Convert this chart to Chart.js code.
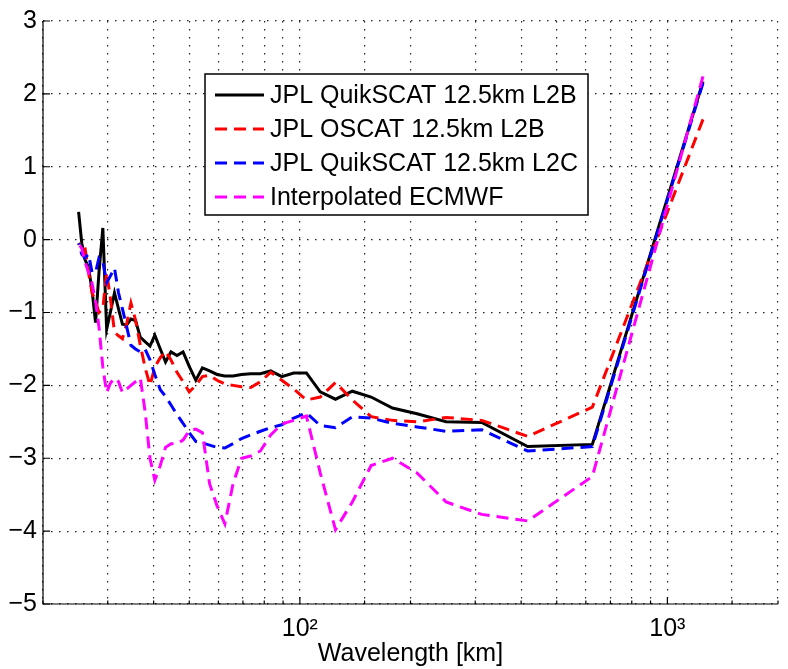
<!DOCTYPE html>
<html>
<head>
<meta charset="utf-8">
<script src="https://cdn.jsdelivr.net/npm/chart.js@4.4.1/dist/chart.umd.min.js"></script>
<style>
  html, body { margin: 0; padding: 0; background: #fff; }
  #slopeChart { display: block; }
</style>
</head>
<body>
<canvas id="slopeChart" width="788" height="669"></canvas>
<script>
// wavelengths [km], 1250/k for k = 1..50
var wavelengths = [1250, 625, 416.7, 312.5, 250, 208.3, 178.6, 156.3, 138.9, 125,
    113.6, 104.2, 96.2, 89.3, 83.3, 78.1, 73.5, 69.4, 65.8, 62.5,
    59.5, 56.8, 54.3, 52.1, 50, 48.1, 46.3, 44.6, 43.1, 41.7,
    40.3, 39.1, 37.9, 36.8, 35.7, 34.7, 33.8, 32.9, 32.1, 31.3,
    30.5, 29.8, 29.1, 28.4, 27.8, 27.2, 26.6, 26.0, 25.5, 25.0];

var quikscatL2B = [2.17, -2.81, -2.84, -2.51, -2.50, -2.39, -2.31, -2.16, -2.08, -2.19,
    -2.09, -1.83, -1.83, -1.88, -1.80, -1.84, -1.84, -1.85, -1.87, -1.87,
    -1.85, -1.80, -1.76, -1.93, -1.74, -1.54, -1.59, -1.54, -1.68, -1.50,
    -1.31, -1.46, -1.40, -1.34, -1.11, -1.09, -1.17, -1.16, -0.95, -0.73,
    -1.00, -1.23, 0.16, -0.45, -1.14, -0.70, -0.38, -0.27, -0.05, 0.38];

var oscatL2B = [1.65, -2.30, -2.70, -2.48, -2.44, -2.50, -2.48, -2.43, -2.20, -1.96,
    -2.16, -2.20, -2.05, -1.93, -1.82, -1.95, -2.03, -2.02, -2.00, -1.98,
    -1.93, -1.86, -1.88, -2.00, -2.09, -1.95, -1.82, -1.65, -1.53, -1.62,
    -1.75, -2.00, -1.75, -1.45, -1.10, -0.87, -1.15, -1.36, -1.32, -1.27,
    -0.80, -0.45, -0.95, -1.00, -0.85, -0.73, -0.45, -0.10, -0.10, -0.05];

var quikscatL2C = [2.15, -2.84, -2.90, -2.61, -2.63, -2.57, -2.52, -2.45, -2.43, -2.58,
    -2.55, -2.38, -2.45, -2.54, -2.58, -2.63, -2.68, -2.73, -2.80, -2.86,
    -2.85, -2.82, -2.79, -2.77, -2.65, -2.52, -2.40, -2.27, -2.15, -2.06,
    -1.85, -1.65, -1.50, -1.54, -1.50, -1.45, -1.20, -0.95, -0.73, -0.39,
    -0.50, -0.59, -0.30, -0.25, -0.45, -0.45, -0.20, -0.25, -0.20, -0.05];

var ecmwf = [2.24, -3.25, -3.86, -3.77, -3.60, -3.20, -3.00, -3.10, -3.60, -3.98,
    -3.20, -2.42, -2.48, -2.53, -2.68, -2.90, -2.97, -3.00, -3.35, -3.90,
    -3.65, -3.35, -2.65, -2.60, -2.62, -2.75, -2.80, -2.80, -2.85, -3.10,
    -3.30, -3.00, -2.35, -1.90, -1.95, -2.00, -2.05, -2.10, -1.95, -1.90,
    -1.97, -2.10, -1.75, -1.20, -0.85, -0.60, -0.45, -0.30, -0.12, -0.05];

var seriesNames = ['JPL QuikSCAT 12.5km L2B', 'JPL OSCAT 12.5km L2B',
    'JPL QuikSCAT 12.5km L2C', 'Interpolated ECMWF'];
var xTickLabels = { 100: '10\u00b2', 1000: '10\u00b3' };
var xTitle = 'Wavelength [km]';

var FONT = 'Liberation Sans, Arial, Helvetica, sans-serif';

function toPoints(values) {
    return values.map(function(v, i) { return { x: wavelengths[i], y: v }; });
}

// legend box drawn inside the plot, like the matlab one
var boxLegend = {
    id: 'boxLegend',
    afterDatasetsDraw: function(chart) {
        var ctx = chart.ctx;
        ctx.save();
        ctx.fillStyle = '#fff';
        ctx.fillRect(205, 74, 383, 141);
        ctx.strokeStyle = '#000';
        ctx.lineWidth = 1.5;
        ctx.strokeRect(205, 74, 383, 141);
        ctx.font = '25px ' + FONT;
        ctx.textBaseline = 'middle';
        ctx.fillStyle = '#000';
        chart.data.datasets.forEach(function(ds, i) {
            var y = 95 + i * 34;
            ctx.strokeStyle = ds.borderColor;
            ctx.lineWidth = ds.borderWidth;
            ctx.setLineDash(ds.borderDash || []);
            ctx.beginPath();
            ctx.moveTo(215, y);
            ctx.lineTo(264, y);
            ctx.stroke();
            ctx.setLineDash([]);
            ctx.fillText(ds.label, 270, y + 1);
        });
        ctx.restore();
    }
};

// left/bottom axis lines with inward ticks
var axisLines = {
    id: 'axisLines',
    afterDraw: function(chart) {
        var ctx = chart.ctx;
        var a = chart.chartArea;
        var xs = chart.scales.x, ys = chart.scales.y;
        ctx.save();
        ctx.strokeStyle = '#000';
        ctx.lineWidth = 1.2;
        ctx.beginPath();
        ctx.moveTo(a.left, a.top);
        ctx.lineTo(a.left, a.bottom);
        ctx.lineTo(a.right, a.bottom);
        ctx.stroke();
        ctx.beginPath();
        ys.ticks.forEach(function(t) {
            var y = ys.getPixelForValue(t.value);
            ctx.moveTo(a.left, y);
            ctx.lineTo(a.left + 7, y);
        });
        xs.ticks.forEach(function(t) {
            var x = xs.getPixelForValue(t.value);
            var len = xTickLabels[t.value] ? 7 : 3.5;
            ctx.moveTo(x, a.bottom);
            ctx.lineTo(x, a.bottom - len);
        });
        ctx.stroke();
        ctx.restore();
    }
};

var ctx = document.getElementById('slopeChart');
var chart = new Chart(ctx, {
    type: 'line',
    data: {
        datasets: [{
            label: seriesNames[0],
            data: toPoints(quikscatL2B),
            borderColor: '#000000',
            borderWidth: 3,
            order: 4
        }, {
            label: seriesNames[1],
            data: toPoints(oscatL2B),
            borderColor: '#ff0000',
            borderWidth: 3,
            borderDash: [12, 7],
            order: 3
        }, {
            label: seriesNames[2],
            data: toPoints(quikscatL2C),
            borderColor: '#0000ff',
            borderWidth: 3,
            borderDash: [12, 7],
            order: 2
        }, {
            label: seriesNames[3],
            data: toPoints(ecmwf),
            borderColor: '#ff00ff',
            borderWidth: 3,
            borderDash: [12, 7],
            order: 1
        }]
    },
    options: {
        responsive: false,
        animation: false,
        devicePixelRatio: 1,
        elements: {
            point: { radius: 0, hoverRadius: 0 },
            line: { tension: 0, fill: false }
        },
        layout: { padding: { top: 16, right: 1, left: 0, bottom: 0 } },
        plugins: {
            legend: { display: false },
            tooltip: { enabled: false }
        },
        scales: {
            x: {
                type: 'logarithmic',
                min: 20,
                max: 2000,
                border: { display: false, dash: [1.5, 6.5] },
                grid: { color: '#222', lineWidth: 1.2, drawTicks: false },
                ticks: {
                    autoSkip: false,
                    maxRotation: 0,
                    padding: 10,
                    color: '#000',
                    font: { family: FONT, size: 25 },
                    callback: function(value) { return xTickLabels[value] || ''; }
                },
                title: {
                    display: true,
                    text: xTitle,
                    color: '#000',
                    font: { family: FONT, size: 25 },
                    padding: { top: 0, bottom: 0 }
                },
                afterFit: function(scale) { scale.height = 65; }
            },
            y: {
                min: -5,
                max: 3,
                border: { display: false, dash: [1.5, 6.5] },
                grid: { color: '#222', lineWidth: 1.2, drawTicks: false },
                ticks: {
                    stepSize: 1,
                    padding: 6,
                    color: '#000',
                    font: { family: FONT, size: 25 },
                    callback: function(value) {
                        return value < 0 ? '\u2212' + Math.abs(value) : String(value);
                    }
                },
                afterFit: function(scale) { scale.width = 43; }
            }
        }
    },
    plugins: [boxLegend, axisLines]
});
</script>
</body>
</html>
